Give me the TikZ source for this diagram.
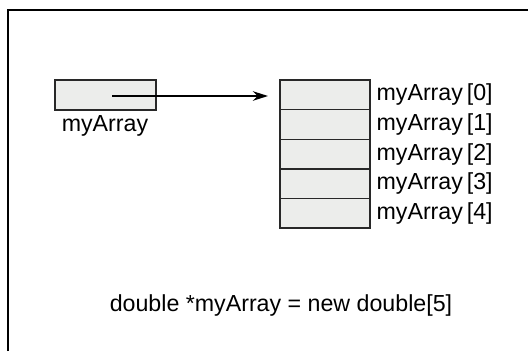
\documentclass[tikz,border=0pt]{standalone}
\usepackage{fontspec}
\setmainfont{Liberation Sans}
\usetikzlibrary{positioning, arrows.meta}
\definecolor{cellFill}{RGB}{236,237,235}
\definecolor{cellLine}{RGB}{40,40,40}
\tikzstyle{cell}  = [draw=cellLine, fill=cellFill, line width=1pt, minimum width=90*0.025cm, minimum height=29.6*0.025cm, inner sep=0pt, outer sep=0pt]
\tikzstyle{arrow} = [-{Stealth[length=3.8mm, width=2.4mm]}, line width=1pt]

\begin{document}
\begin{tikzpicture}[x=0.025cm, y=-0.025cm, font=\fontsize{16.5}{18}\selectfont]
% page 528 x 351 px, y grows downwards
\useasboundingbox (0,0) rectangle (528,351);
% frame (only left and top edges are in view)
\draw[line width=1.4pt] (8,351) -- (8,10) -- (528,10);
% pointer box
\node[cell, minimum width=101*0.025cm, minimum height=30*0.025cm] (ptr) at (105.5,95) {};
\node (ptrlbl) at (105,126) {myArray};
\coordinate (tail) at (112,96);
% array cells
\foreach \i in {0,...,4}{
  \node[cell] (cell\i) at (325,94.8+29.6*\i) {};
  \node[right=4.5pt of cell\i.east, inner sep=0pt] (lbl\i) {myArray\,[\i]};
}
% pointer arrow
\draw[arrow, shorten >=12*0.025cm] (tail) -- (tail -| cell0.west);
% declaration
\node (decl) at (281,305) {double *myArray = new double[5]};
\end{tikzpicture}
\end{document}
